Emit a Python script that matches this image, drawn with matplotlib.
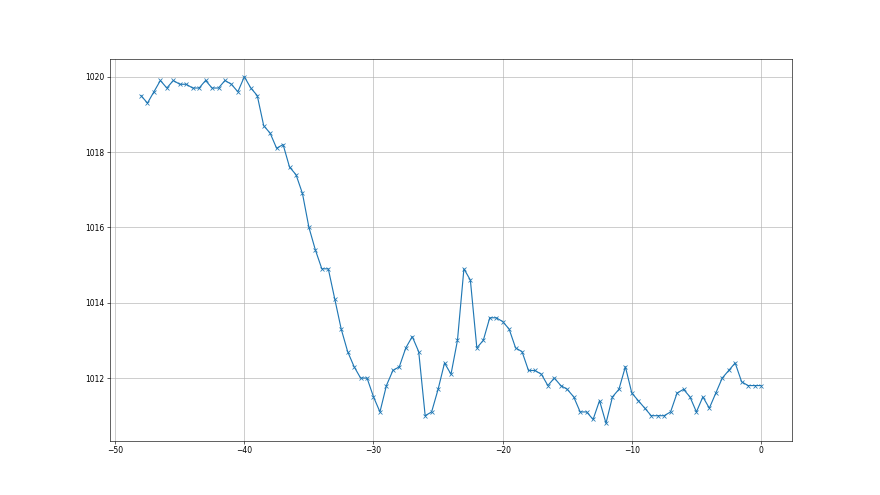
import numpy as np
import matplotlib
matplotlib.use("Agg")
import matplotlib.pyplot as plt

x_start = -48.0
x_step = 0.5
pressure = [
    1019.5, 1019.3, 1019.6, 1019.9, 1019.7, 1019.9, 1019.8, 1019.8, 1019.7, 1019.7,
    1019.9, 1019.7, 1019.7, 1019.9, 1019.8, 1019.6, 1020.0, 1019.7, 1019.5, 1018.7,
    1018.5, 1018.1, 1018.2, 1017.6, 1017.4, 1016.9, 1016.0, 1015.4, 1014.9, 1014.9,
    1014.1, 1013.3, 1012.7, 1012.3, 1012.0, 1012.0, 1011.5, 1011.1, 1011.8, 1012.2,
    1012.3, 1012.8, 1013.1, 1012.7, 1011.0, 1011.1, 1011.7, 1012.4, 1012.1, 1013.0,
    1014.9, 1014.6, 1012.8, 1013.0, 1013.6, 1013.6, 1013.5, 1013.3, 1012.8, 1012.7,
    1012.2, 1012.2, 1012.1, 1011.8, 1012.0, 1011.8, 1011.7, 1011.5, 1011.1, 1011.1,
    1010.9, 1011.4, 1010.8, 1011.5, 1011.7, 1012.3, 1011.6, 1011.4, 1011.2, 1011.0,
    1011.0, 1011.0, 1011.1, 1011.6, 1011.7, 1011.5, 1011.1, 1011.5, 1011.2, 1011.6,
    1012.0, 1012.2, 1012.4, 1011.9, 1011.8, 1011.8, 1011.8,
]
hours = [x_start + x_step * i for i in range(len(pressure))]

fig, ax = plt.subplots(figsize=(16, 9), dpi=55)
ax.plot(hours, pressure, marker='x', color='#1f77b4')
ax.grid(True)
fig.savefig("out.png", dpi=55)
